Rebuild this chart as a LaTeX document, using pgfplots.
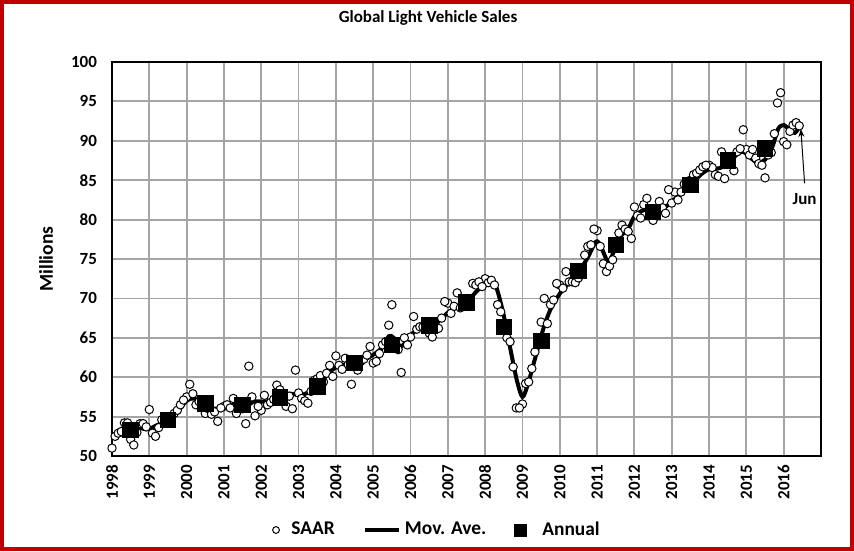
\documentclass[border=0pt]{standalone}
\usepackage{pgfplots}
\pgfplotsset{compat=1.18}
\usepackage{pgfplotstable}
\usepackage{fontspec}
\setmainfont{Carlito}
\usetikzlibrary{arrows.meta}
\definecolor{framec}{RGB}{192,0,0}
\definecolor{gridc}{RGB}{165,165,165}

\pgfplotstableread{
yr m1 m2 m3 m4 m5 m6 m7 m8 m9 m10 m11 m12
1998 51.0 52.5 52.9 53.1 54.2 54.2 52.1 51.4 53.0 54.1 54.1 53.7
1999 55.9 52.9 52.5 53.6 54.6 54.4 54.5 55.0 55.4 55.8 56.5 57.1
2000 57.5 59.1 57.9 56.5 56.9 56.6 55.4 56.0 55.3 55.6 54.4 56.1
2001 56.3 56.5 56.1 57.3 55.4 56.5 56.0 54.1 61.4 57.5 55.1 56.3
2002 55.8 57.7 56.5 56.8 57.2 59.0 58.4 57.5 56.3 57.6 56.0 60.9
2003 58.0 57.3 57.0 56.7 58.2 59.6 59.8 60.2 59.4 60.5 61.5 60.1
2004 62.7 61.5 61.0 62.4 61.6 59.1 61.7 60.9 62.0 62.3 62.8 63.9
2005 61.8 62.0 63.0 64.1 64.5 66.6 69.2 64.0 63.5 60.6 65.0 64.1
2006 65.1 67.7 66.1 66.4 66.4 66.8 65.6 65.1 66.6 66.2 67.5 69.6
2007 69.4 68.1 69.0 70.7 68.8 69.3 69.0 69.8 71.9 71.7 72.1 71.5
2008 72.5 72.0 72.3 71.7 69.2 68.3 66.8 65.0 64.5 61.3 56.1 56.1
2009 56.6 59.2 59.4 61.1 63.2 65.0 67.0 70.0 66.8 69.2 69.8 71.9
2010 71.7 71.3 73.4 72.1 72.1 72.0 72.6 73.0 75.5 76.6 76.8 78.8
2011 78.6 76.6 74.4 73.4 74.1 74.9 76.5 78.3 79.3 78.8 78.5 77.6
2012 81.6 80.5 80.2 81.9 82.7 80.5 79.9 80.5 82.3 81.5 80.8 83.8
2013 82.1 83.5 82.5 83.5 84.5 84.0 85.0 85.7 85.9 86.3 86.7 86.9
2014 86.9 86.6 85.7 85.5 88.6 85.2 87.0 87.4 86.2 88.6 89.0 91.4
2015 88.9 88.2 88.9 87.8 87.1 86.9 85.3 88.2 88.5 90.9 94.8 96.1
}\saar

\pgfplotstableread{
yr v
2016.000 89.9
2016.083 89.5
2016.167 91.2
2016.250 92.0
2016.333 92.3
2016.417 91.9
}\saarlast

\pgfplotstableread{
yr v
1998.5 53.3
1999.5 54.6
2000.5 56.7
2001.5 56.5
2002.5 57.4
2003.5 58.8
2004.5 61.8
2005.5 64.1
2006.5 66.6
2007.5 69.5
2008.5 66.4
2009.5 64.6
2010.5 73.5
2011.5 76.8
2012.5 81.0
2013.5 84.4
2014.5 87.5
2015.5 89.0
}\annual

\begin{document}
\begin{tikzpicture}
\useasboundingbox (-56pt,-47.5pt) rectangle (371pt,228pt);
\fill[white] (-56pt,-47.5pt) rectangle (371pt,228pt);
\begin{axis}[
  at={(0pt,0pt)}, anchor=south west,
  scale only axis, width=354.5pt, height=197pt,
  xmin=1998, xmax=2017, ymin=50, ymax=100,
  xtick={1998,1999,...,2016}, ytick={50,55,...,100},
  grid=major, major grid style={draw=gridc, line width=0.9pt},
  axis line style={black, line width=1.3pt},
  major tick length=0pt,
  /pgf/number format/assume math mode=true,
  /pgf/number format/1000 sep={},
  xticklabel style={rotate=90, anchor=east, font=\bfseries\fontsize{8.5}{10}\selectfont, xshift=-1pt},
  yticklabel style={font=\bfseries\fontsize{8.5}{10}\selectfont, xshift=-4pt},
  ylabel={Millions},
  every axis y label/.style={at={(axis description cs:-0.093,0.5)}, rotate=90, anchor=center, font=\bfseries\fontsize{9.8}{11}\selectfont},
  legend columns=3,
  legend style={draw=none, fill=none, at={(axis description cs:0.46,0)}, anchor=center, yshift=-37pt,
    font=\bfseries\fontsize{9.7}{11}\selectfont,
    /tikz/every even column/.append style={column sep=12pt}},
  legend cell align=left,
]
\addlegendimage{only marks, mark=*, mark size=1.7pt, mark options={draw=black, fill=white, line width=0.5pt}}
\addlegendentry{\hspace{4pt}SAAR}
\addlegendimage{black, line width=2pt}
\addlegendentry{Mov. Ave.}
\addlegendimage{only marks, mark=square*, mark size=3pt, mark options={fill=black, draw=black}}
\addlegendentry{\hspace{6pt}Annual}

\pgfplotsinvokeforeach{1,...,12}{
  \addplot[only marks, mark=*, mark size=2.1pt, mark options={draw=black, fill=white, line width=0.5pt}, forget plot]
    table[x expr=\thisrow{yr}+(#1-1)/12, y=m#1] {\saar};
}
\addplot[only marks, mark=*, mark size=2.1pt, mark options={draw=black, fill=white, line width=0.5pt}, forget plot]
  table[x=yr, y=v] {\saarlast};

\addplot[black, line width=2pt, smooth, tension=0.5, forget plot] coordinates {
(1998.25,53.0)(1998.45,53.6)(1998.7,53.6)(1998.95,53.4)(1999.2,53.9)(1999.5,54.6)(1999.75,55.6)
(2000.0,57.0)(2000.2,57.3)(2000.45,56.6)(2000.75,56.0)(2001.0,56.3)(2001.3,56.5)(2001.55,56.2)
(2001.8,56.9)(2002.05,56.9)(2002.3,57.0)(2002.55,57.5)(2002.8,57.9)(2003.05,57.7)(2003.3,58.2)
(2003.55,59.2)(2003.8,60.5)(2004.05,61.4)(2004.3,61.6)(2004.55,61.6)(2004.8,62.3)(2005.05,63.0)
(2005.25,63.8)(2005.42,65.2)(2005.55,65.0)(2005.75,63.9)(2006.0,65.3)(2006.25,66.3)(2006.5,66.6)
(2006.75,67.1)(2007.0,68.2)(2007.25,68.9)(2007.5,69.5)(2007.75,70.8)(2008.0,71.9)(2008.15,72.2)
(2008.3,71.4)(2008.5,67.8)(2008.7,63.0)(2008.85,59.6)(2009.0,57.5)(2009.15,59.2)(2009.35,62.6)
(2009.55,66.0)(2009.75,68.6)(2010.0,70.6)(2010.25,72.0)(2010.5,73.3)(2010.75,75.2)(2010.97,77.2)
(2011.1,76.6)(2011.3,74.6)(2011.45,76.0)(2011.6,77.7)(2011.85,79.0)(2012.0,80.4)(2012.25,81.2)
(2012.5,81.0)(2012.75,81.3)(2013.0,82.3)(2013.25,83.3)(2013.5,84.3)(2013.75,85.6)(2014.0,86.4)
(2014.25,86.5)(2014.5,87.0)(2014.75,88.3)(2014.92,88.6)(2015.1,87.9)(2015.3,87.2)(2015.5,87.6)
(2015.7,89.3)(2015.85,91.5)(2016.0,92.0)(2016.15,91.4)(2016.3,91.0)(2016.42,91.8)
};

\addplot[only marks, mark=square*, mark size=3.9pt, mark options={fill=black, draw=black}, forget plot]
  table[x=yr, y=v] {\annual};

\draw[-{Stealth[length=4pt,width=3pt]}, line width=0.5pt] (axis cs:2016.56,84.6) -- (axis cs:2016.46,91.5);
\node[font=\bfseries\fontsize{8.5}{10}\selectfont] at (axis cs:2016.56,82.6) {Jun};
\end{axis}
\node[font=\bfseries\fontsize{8.5}{10}\selectfont] at (158pt,219pt) {Global Light Vehicle Sales};
\draw[framec, line width=2pt] (-55pt,-46.5pt) rectangle (370pt,227pt);
\end{tikzpicture}
\end{document}
